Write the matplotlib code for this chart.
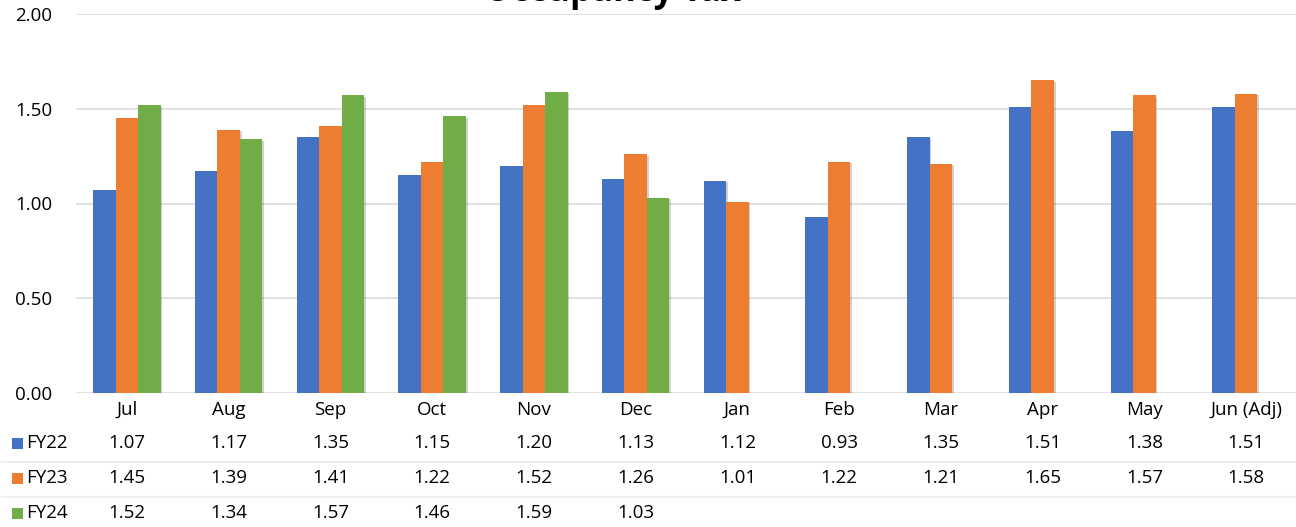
import matplotlib
matplotlib.use("Agg")
import matplotlib.pyplot as plt
import matplotlib.transforms as mtransforms
from matplotlib.lines import Line2D
from matplotlib.patches import Rectangle
import matplotlib.patheffects as pe
import numpy as np

months = ["Jul", "Aug", "Sep", "Oct", "Nov", "Dec", "Jan", "Feb", "Mar", "Apr", "May", "Jun (Adj)"]
fy22 = [1.07, 1.17, 1.35, 1.15, 1.20, 1.13, 1.12, 0.93, 1.35, 1.51, 1.38, 1.51]
fy23 = [1.45, 1.39, 1.41, 1.22, 1.52, 1.26, 1.01, 1.22, 1.21, 1.65, 1.57, 1.58]
fy24 = [1.52, 1.34, 1.57, 1.46, 1.59, 1.03]
series_names = ["FY22", "FY23", "FY24"]
colors = ["#4472C4", "#ED7D31", "#70AD47"]
yticks = [0.0, 0.5, 1.0, 1.5, 2.0]
title = "Occupancy Tax"

plt.rcParams['font.family'] = ['Open Sans', 'DejaVu Sans']
W, H = 1296, 527
fig = plt.figure(figsize=(W / 100, H / 100), dpi=100)
ax = fig.add_axes([76 / W, 1 - 393 / H, (1297 - 76) / W, (393 - 14) / H])

x = np.arange(len(months))
bw = 0.221
all_series = [fy22, fy23, fy24]
shadow = [pe.SimplePatchShadow(offset=(1.2, -1.2), shadow_rgbFace="#000000", alpha=0.18), pe.Normal()]
for i, (vals, c) in enumerate(zip(all_series, colors)):
    xs = x[:len(vals)] + (i - 1) * bw
    ax.bar(xs, vals, width=bw, color=c, zorder=3, path_effects=shadow)

ax.set_xlim(-0.5, len(months) - 0.5)
ax.set_ylim(0, 2.0)
ax.set_yticks(yticks)
ax.set_yticklabels([f"{v:.2f}" for v in yticks])
ax.tick_params(axis='y', length=0, pad=17, labelsize=13.5, colors="#000000")
ax.set_xticks([])
for s in ax.spines.values():
    s.set_visible(False)
ax.yaxis.grid(True, color="#dedede", linewidth=1.3, zorder=0)
ax.set_axisbelow(True)

# data table
trans = mtransforms.blended_transform_factory(ax.transData, fig.transFigure)
def fy(px):
    return 1 - px / H

for xi, m in zip(x, months):
    ax.text(xi, fy(410), m, transform=trans, ha='center', va='center', fontsize=13.5, clip_on=False)

row_y = [443, 478, 513]
for name, vals, c, ry in zip(series_names, all_series, colors, row_y):
    fig.add_artist(Rectangle((12 / W, fy(ry + 5.5)), 11 / W, 11 / H, transform=fig.transFigure,
                             facecolor=c, edgecolor='none'))
    fig.text(26 / W, fy(ry), name, ha='left', va='center', fontsize=13.5)
    for xi, v in zip(x, vals):
        ax.text(xi, fy(ry), f"{v:.2f}", transform=trans, ha='center', va='center', fontsize=13.5, clip_on=False)

for ly in [462, 497]:
    fig.add_artist(Line2D([2 / W, 1.0], [fy(ly), fy(ly)], transform=fig.transFigure,
                          color="#efefef", linewidth=1.5))

fig.text(612 / W, fy(1), title, ha='center', va='baseline', fontsize=25, fontweight='bold')

fig.savefig("out.png", dpi=100)
